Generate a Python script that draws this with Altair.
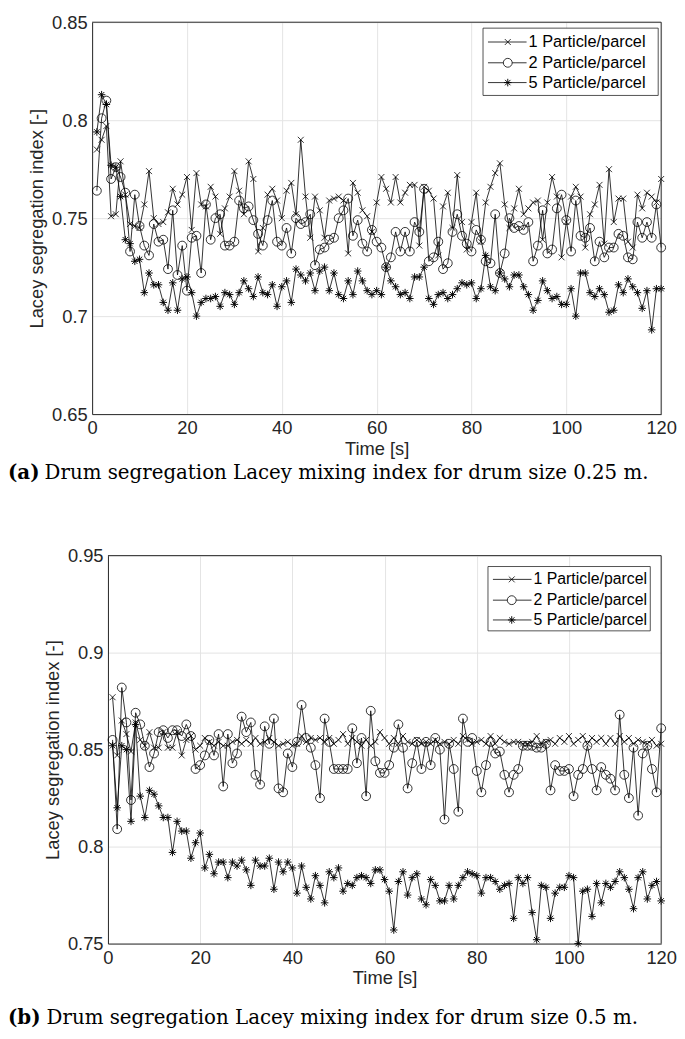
import altair as alt
import pandas as pd

time_s = list(range(1, 121))
series_names = ["1 Particle/parcel", "2 Particle/parcel", "5 Particle/parcel"]

# ---- panel (a): drum size 0.25 m ----
a_p1 = [0.785, 0.790, 0.797, 0.751, 0.752, 0.779, 0.762, 0.747, 0.746, 0.745,
        0.757, 0.774, 0.750, 0.747, 0.748, 0.753, 0.765, 0.757, 0.762, 0.771,
        0.744, 0.773, 0.757, 0.756, 0.766, 0.761, 0.742, 0.755, 0.761, 0.774,
        0.764, 0.752, 0.779, 0.770, 0.733, 0.745, 0.762, 0.765, 0.759, 0.750,
        0.764, 0.768, 0.752, 0.790, 0.761, 0.740, 0.761, 0.754, 0.740, 0.759,
        0.760, 0.761, 0.759, 0.732, 0.768, 0.763, 0.754, 0.751, 0.743, 0.758,
        0.771, 0.765, 0.758, 0.771, 0.758, 0.763, 0.767, 0.767, 0.736, 0.766,
        0.764, 0.760, 0.731, 0.756, 0.763, 0.745, 0.772, 0.748, 0.734, 0.748,
        0.763, 0.738, 0.758, 0.766, 0.773, 0.778, 0.757, 0.745, 0.755, 0.765,
        0.752, 0.755, 0.758, 0.759, 0.739, 0.758, 0.771, 0.761, 0.730, 0.748,
        0.761, 0.766, 0.761, 0.735, 0.752, 0.757, 0.767, 0.737, 0.775, 0.748,
        0.760, 0.760, 0.738, 0.735, 0.762, 0.755, 0.763, 0.761, 0.758, 0.770]
a_p2 = [0.764, 0.801, 0.810, 0.770, 0.776, 0.771, 0.763, 0.733, 0.762, 0.746,
        0.736, 0.731, 0.747, 0.738, 0.739, 0.724, 0.754, 0.721, 0.736, 0.713,
        0.740, 0.741, 0.722, 0.757, 0.739, 0.750, 0.752, 0.736, 0.736, 0.738,
        0.759, 0.755, 0.756, 0.749, 0.742, 0.736, 0.749, 0.759, 0.738, 0.736,
        0.745, 0.732, 0.750, 0.747, 0.748, 0.752, 0.726, 0.734, 0.735, 0.739,
        0.740, 0.750, 0.754, 0.760, 0.741, 0.749, 0.737, 0.733, 0.744, 0.738,
        0.735, 0.725, 0.730, 0.743, 0.733, 0.743, 0.733, 0.748, 0.743, 0.765,
        0.728, 0.730, 0.738, 0.724, 0.727, 0.743, 0.752, 0.741, 0.737, 0.733,
        0.744, 0.739, 0.728, 0.727, 0.752, 0.722, 0.732, 0.750, 0.745, 0.746,
        0.744, 0.748, 0.728, 0.736, 0.754, 0.732, 0.734, 0.755, 0.762, 0.749,
        0.733, 0.759, 0.741, 0.740, 0.745, 0.728, 0.738, 0.730, 0.735, 0.735,
        0.742, 0.741, 0.730, 0.729, 0.748, 0.740, 0.748, 0.740, 0.757, 0.735]
a_p5 = [0.794, 0.813, 0.808, 0.777, 0.776, 0.761, 0.739, 0.737, 0.728, 0.729,
        0.712, 0.722, 0.716, 0.716, 0.707, 0.703, 0.717, 0.703, 0.719, 0.720,
        0.712, 0.700, 0.707, 0.709, 0.709, 0.710, 0.705, 0.712, 0.711, 0.706,
        0.712, 0.718, 0.714, 0.710, 0.720, 0.712, 0.711, 0.716, 0.705, 0.715,
        0.718, 0.707, 0.724, 0.721, 0.718, 0.722, 0.713, 0.723, 0.725, 0.713,
        0.722, 0.711, 0.709, 0.718, 0.711, 0.723, 0.718, 0.713, 0.711, 0.713,
        0.711, 0.725, 0.718, 0.715, 0.711, 0.712, 0.709, 0.720, 0.720, 0.725,
        0.709, 0.706, 0.711, 0.712, 0.709, 0.711, 0.714, 0.717, 0.716, 0.717,
        0.709, 0.714, 0.731, 0.715, 0.713, 0.722, 0.719, 0.715, 0.721, 0.721,
        0.715, 0.711, 0.703, 0.708, 0.718, 0.713, 0.709, 0.710, 0.706, 0.706,
        0.714, 0.700, 0.722, 0.722, 0.712, 0.710, 0.714, 0.711, 0.702, 0.703,
        0.716, 0.712, 0.719, 0.715, 0.712, 0.704, 0.713, 0.693, 0.714, 0.714]

# ---- panel (b): drum size 0.5 m ----
b_p1 = [0.877, 0.847, 0.865, 0.858, 0.849, 0.864, 0.855, 0.852, 0.859, 0.851,
        0.851, 0.859, 0.851, 0.851, 0.859, 0.847, 0.855, 0.857, 0.850, 0.852,
        0.856, 0.854, 0.852, 0.854, 0.852, 0.852, 0.854, 0.855, 0.853, 0.855,
        0.853, 0.856, 0.853, 0.854, 0.856, 0.854, 0.852, 0.853, 0.854, 0.852,
        0.853, 0.857, 0.854, 0.856, 0.855, 0.856, 0.854, 0.856, 0.853, 0.855,
        0.858, 0.853, 0.856, 0.854, 0.852, 0.855, 0.852, 0.854, 0.859, 0.856,
        0.853, 0.856, 0.853, 0.857, 0.854, 0.853, 0.855, 0.853, 0.854, 0.853,
        0.855, 0.853, 0.854, 0.853, 0.855, 0.853, 0.857, 0.855, 0.853, 0.854,
        0.855, 0.853, 0.857, 0.853, 0.856, 0.854, 0.853, 0.854, 0.854, 0.853,
        0.853, 0.854, 0.857, 0.853, 0.854, 0.855, 0.853, 0.856, 0.854, 0.857,
        0.853, 0.855, 0.857, 0.853, 0.856, 0.854, 0.856, 0.853, 0.856, 0.853,
        0.857, 0.854, 0.856, 0.853, 0.855, 0.854, 0.853, 0.855, 0.852, 0.853]
b_p2 = [0.855, 0.809, 0.882, 0.864, 0.824, 0.869, 0.863, 0.852, 0.841, 0.848,
        0.859, 0.860, 0.856, 0.860, 0.860, 0.857, 0.863, 0.857, 0.840, 0.842,
        0.847, 0.855, 0.847, 0.858, 0.831, 0.858, 0.843, 0.848, 0.867, 0.859,
        0.864, 0.837, 0.832, 0.862, 0.853, 0.866, 0.830, 0.828, 0.848, 0.841,
        0.854, 0.873, 0.856, 0.851, 0.842, 0.825, 0.866, 0.854, 0.840, 0.840,
        0.840, 0.840, 0.861, 0.843, 0.856, 0.826, 0.870, 0.844, 0.838, 0.838,
        0.842, 0.851, 0.863, 0.851, 0.830, 0.843, 0.854, 0.840, 0.854, 0.842,
        0.856, 0.850, 0.814, 0.853, 0.840, 0.818, 0.866, 0.854, 0.856, 0.839,
        0.828, 0.842, 0.854, 0.848, 0.849, 0.837, 0.828, 0.837, 0.840, 0.852,
        0.852, 0.852, 0.851, 0.851, 0.853, 0.829, 0.842, 0.839, 0.839, 0.840,
        0.826, 0.837, 0.840, 0.852, 0.840, 0.829, 0.841, 0.837, 0.835, 0.829,
        0.868, 0.837, 0.825, 0.851, 0.816, 0.848, 0.852, 0.840, 0.828, 0.861]
b_p5 = [0.852, 0.820, 0.852, 0.850, 0.813, 0.863, 0.826, 0.815, 0.829, 0.827,
        0.821, 0.815, 0.815, 0.797, 0.813, 0.808, 0.808, 0.794, 0.802, 0.807,
        0.789, 0.796, 0.786, 0.792, 0.792, 0.784, 0.792, 0.790, 0.793, 0.788,
        0.780, 0.793, 0.790, 0.790, 0.794, 0.778, 0.792, 0.787, 0.792, 0.789,
        0.776, 0.790, 0.779, 0.773, 0.785, 0.780, 0.771, 0.787, 0.784, 0.789,
        0.777, 0.781, 0.780, 0.784, 0.785, 0.784, 0.781, 0.788, 0.788, 0.783,
        0.777, 0.757, 0.782, 0.787, 0.775, 0.784, 0.786, 0.773, 0.770, 0.783,
        0.780, 0.772, 0.772, 0.780, 0.773, 0.780, 0.784, 0.787, 0.786, 0.785,
        0.776, 0.784, 0.784, 0.782, 0.778, 0.780, 0.781, 0.763, 0.784, 0.781,
        0.784, 0.766, 0.752, 0.780, 0.779, 0.763, 0.776, 0.779, 0.779, 0.785,
        0.784, 0.750, 0.777, 0.778, 0.764, 0.781, 0.771, 0.781, 0.779, 0.782,
        0.787, 0.784, 0.778, 0.768, 0.784, 0.787, 0.773, 0.780, 0.782, 0.772]

x_ticks = [0, 20, 40, 60, 80, 100, 120]
a_y_ticks = [0.65, 0.70, 0.75, 0.80, 0.85]
b_y_ticks = [0.75, 0.80, 0.85, 0.90, 0.95]

X_PATH = "M-0.75,-0.75L0.75,0.75M-0.75,0.75L0.75,-0.75"
STAR_PATH = ("M0,-0.9L0,0.9M-0.9,0L0.9,0M-0.64,-0.64L0.64,0.64"
             "M-0.64,0.64L0.64,-0.64")
marker_specs = [(X_PATH, 64, 0.8), ("circle", 80, 0.8), (STAR_PATH, 72, 0.95)]

AX = "#262626"
SANS = "Liberation Sans"
SERIF = "DejaVu Serif"
W = 575


def one_row():
    return pd.DataFrame({"k": [0]})


def panel(vals, ydom, yticks, left, h, cap_tag, cap_text, cap_gap, cap_y,
          leg_box, leg_rows, leg_line, leg_mark, leg_text, leg_fs):
    frames = []
    for name, v in zip(series_names, vals):
        frames.append(pd.DataFrame({"t": time_s, "value": v, "series": name}))
    df = pd.concat(frames, ignore_index=True)

    xenc = alt.X("t:Q", scale=alt.Scale(domain=[0, 120], nice=False, range=[left, W]),
                 axis=alt.Axis(values=x_ticks, title="Time [s]", ticks=False,
                               labelFont=SANS, labelFontSize=18.5, labelColor=AX,
                               titleFont=SANS, titleFontSize=18.5, titleColor=AX,
                               titleFontWeight="normal", labelPadding=5,
                               titlePadding=2, domainColor=AX, domainWidth=1,
                               gridColor="#e4e4e4", labelFlush=False))
    yaxis_kw = dict(values=yticks, format="~g",
                    title="Lacey segregation index [-]", ticks=False,
                    labelFont=SANS, labelFontSize=18.5, labelColor=AX,
                    titleFont=SANS, titleFontSize=18.5, titleColor=AX,
                    titleFontWeight="normal", labelPadding=5,
                    titlePadding=5, domainColor=AX, domainWidth=1,
                    gridColor="#e4e4e4", labelFlush=False)
    if left:
        yaxis_kw["offset"] = -left
    yenc = alt.Y("value:Q", scale=alt.Scale(domain=ydom, nice=False, zero=False),
                 axis=alt.Axis(**yaxis_kw))

    base = alt.Chart(df)
    lines = base.mark_line(color="black", strokeWidth=0.8).encode(
        x=xenc, y=yenc, detail="series:N")
    layers = [lines]
    for name, (shape, size, sw) in zip(series_names, marker_specs):
        layers.append(
            base.transform_filter(alt.datum.series == name)
            .mark_point(shape=shape, size=size, filled=False, color="black",
                        strokeWidth=sw, opacity=1)
            .encode(x="t:Q", y="value:Q"))

    # top and right edges of the axes box
    layers.append(alt.Chart(one_row()).mark_rule(color=AX, strokeWidth=1).encode(
        x=alt.value(left), x2=alt.value(W), y=alt.value(0)))
    layers.append(alt.Chart(one_row()).mark_rule(color=AX, strokeWidth=1).encode(
        x=alt.value(W), y=alt.value(0), y2=alt.value(h)))

    # legend box (inside plot, top right)
    bx0, by0, bx1, by1 = leg_box
    layers.append(alt.Chart(one_row()).mark_rect(
        fill="white", stroke=AX, strokeWidth=0.8).encode(
        x=alt.value(bx0), x2=alt.value(bx1), y=alt.value(by0), y2=alt.value(by1)))
    for (name, (shape, size, sw)), ry in zip(zip(series_names, marker_specs), leg_rows):
        layers.append(alt.Chart(one_row()).mark_rule(
            color="black", strokeWidth=0.8).encode(
            x=alt.value(leg_line[0]), x2=alt.value(leg_line[1]), y=alt.value(ry)))
        layers.append(alt.Chart(one_row()).mark_point(
            shape=shape, size=size, filled=False, color="black", fill="white",
            strokeWidth=sw, opacity=1).encode(
            x=alt.value(leg_mark), y=alt.value(ry)))
        layers.append(alt.Chart(one_row()).mark_text(
            text=name, align="left", baseline="middle", font=SANS,
            fontSize=leg_fs, color="black").encode(
            x=alt.value(leg_text), y=alt.value(ry)))

    # caption under the panel
    cap_dx = -85
    layers.append(alt.Chart(one_row()).mark_text(
        text=cap_tag, align="left", baseline="middle", font=SERIF,
        fontWeight="bold", fontSize=20, color="black").encode(
        x=alt.value(cap_dx), y=alt.value(cap_y)))
    layers.append(alt.Chart(one_row()).mark_text(
        text=cap_text, align="left", baseline="middle", font=SERIF,
        fontSize=20, color="black").encode(
        x=alt.value(cap_dx + cap_gap), y=alt.value(cap_y)))

    return alt.layer(*layers).properties(width=W, height=h)


pa = panel([a_p1, a_p2, a_p5], [0.65, 0.85], a_y_ticks, 0, 396,
           "(a)", "Drum segregation Lacey mixing index for drum size 0.25 m.",
           37, 456,
           (395, 6, 572, 74), (20, 41, 61), (400, 439), 420, 441, 16.5)
pb = panel([b_p1, b_p2, b_p5], [0.75, 0.95], b_y_ticks, 16, 392,
           "(b)", "Drum segregation Lacey mixing index for drum size 0.5 m.",
           39, 467,
           (400, 11, 564, 76), (24, 45, 65), (405, 444), 424, 446, 16)

chart = alt.vconcat(pa, pb, spacing=64).properties(padding=0).configure_view(
    strokeOpacity=0)

chart.save("out.html", embed_options={"renderer": "svg", "actions": False})
